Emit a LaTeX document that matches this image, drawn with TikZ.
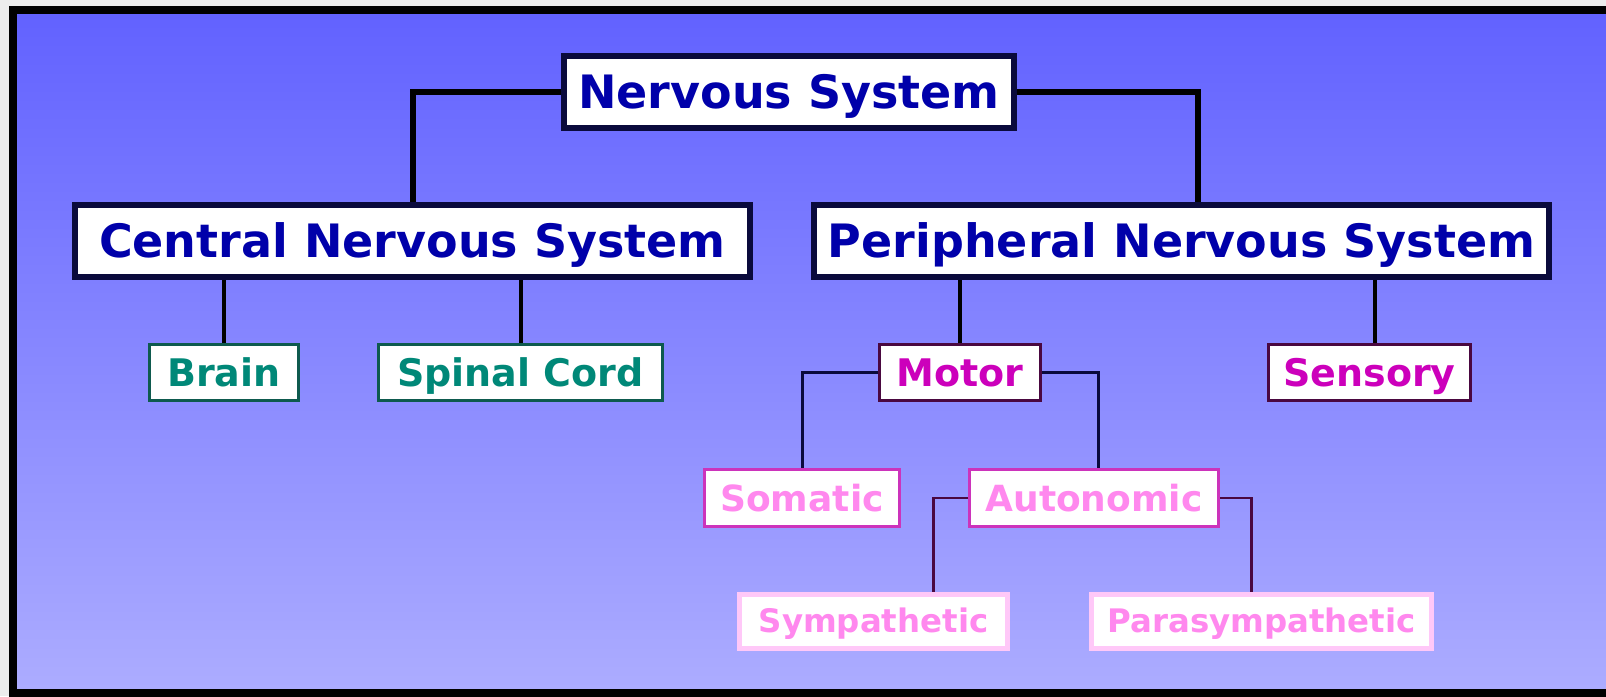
\documentclass[tikz,border=0pt]{standalone}
\usepackage{fontspec}
\setmainfont{DejaVu Sans}
\usepackage{tikz}
\usetikzlibrary{positioning}

\definecolor{navyline}{HTML}{0A0A3C}
\definecolor{navytext}{HTML}{0000AA}
\definecolor{tealline}{HTML}{0E5A4E}
\definecolor{tealtext}{HTML}{008878}
\definecolor{plumline}{HTML}{4A0840}
\definecolor{plumtext}{HTML}{CC00BB}
\definecolor{orchidline}{HTML}{CC33BB}
\definecolor{pinkline}{HTML}{FFC8F8}
\definecolor{pinktext}{HTML}{FF88EE}
\definecolor{bgtop}{HTML}{6262FF}
\definecolor{bgbottom}{HTML}{ACACFF}

\tikzset{
    box/.style={draw, fill=white, rectangle, inner sep=0pt, text depth=0pt},
    topbox/.style={box, draw=navyline, line width=3pt, text=navytext,
        minimum height=36pt, text height=16.8pt,
        font=\bfseries\fontsize{23}{24}\selectfont},
    cnsbox/.style={box, draw=tealline, line width=1.5pt, text=tealtext,
        minimum height=28pt, text height=13.9pt,
        font=\bfseries\fontsize{19}{21}\selectfont},
    pnsbox/.style={box, draw=plumline, line width=1.5pt, text=plumtext,
        minimum height=28pt, text height=13.9pt,
        font=\bfseries\fontsize{19}{21}\selectfont},
    motorbox/.style={box, draw=orchidline, line width=1.5pt, text=pinktext,
        minimum height=28.5pt, text height=13.1pt,
        font=\bfseries\fontsize{18}{20}\selectfont},
    autobox/.style={box, draw=pinkline, line width=2.5pt, text=pinktext,
        minimum height=27pt, text height=11.8pt,
        font=\bfseries\fontsize{16.2}{18}\selectfont},
}

\begin{document}
\begin{tikzpicture}[x=0.5pt, y=-0.5pt]

     % frame and background
     \useasboundingbox (0,0) rectangle (1606,696);
     \fill[gray!15] (0,0) rectangle (1606,696);
     \shade[top color=bgtop, bottom color=bgbottom] (17,14) rectangle (1606,689);
     \draw[line width=4pt] (1606,9.5) -- (13,9.5) -- (13,692.5) -- (1606,692.5);

     \node[topbox, minimum width=225pt] (ns) at (789,92) {Nervous System};
     \node[topbox, minimum width=337.5pt] (cns) at (412.5,241) {Central Nervous System};
     \node[topbox, minimum width=367.5pt] (pns) at (1181.5,241) {Peripheral Nervous System};

     \node[cnsbox, minimum width=74.5pt] (brain) at (224,372.5) {Brain};
     \node[cnsbox, minimum width=142pt] (spinal) at (520.5,372.5) {Spinal Cord};
     \node[pnsbox, minimum width=80.5pt] (motor) at (960,372.5) {Motor};
     \node[pnsbox, minimum width=101pt] (sensory) at (1369.5,372.5) {Sensory};

     \node[motorbox, minimum width=97.5pt] (somatic) at (802,498) {Somatic};
     \node[motorbox, minimum width=124.5pt] (autonomic) at (1094,498) {Autonomic};

     \node[autobox, minimum width=134pt] (symp) at (873.5,621) {Sympathetic};
     \node[autobox, minimum width=170pt] (parasymp) at (1261.5,621) {Parasympathetic};

     % connectors
     \draw[line width=3pt] (ns.west) -| (cns.north);
     \draw[line width=3pt] (ns.east) -| ([xshift=8pt]pns.north);
     \draw[line width=2pt] (brain.north) -- (brain.north |- cns.south);
     \draw[line width=2pt] (spinal.north) -- (spinal.north |- cns.south);
     \draw[line width=2pt] (motor.north) -- (motor.north |- pns.south);
     \draw[line width=2pt] ([xshift=2.5pt]sensory.north) -- ([xshift=2.5pt]sensory.north |- pns.south);
     \draw[line width=1.5pt, color=navyline] (motor.west) -| (somatic.north);
     \draw[line width=1.5pt, color=navyline] (motor.east) -| ([xshift=2pt]autonomic.north);
     \draw[line width=1.2pt, color=plumline] (autonomic.west) -| ([xshift=30pt]symp.north);
     \draw[line width=1.2pt, color=plumline] (autonomic.east) -| ([xshift=-5pt]parasymp.north);
\end{tikzpicture}
\end{document}
